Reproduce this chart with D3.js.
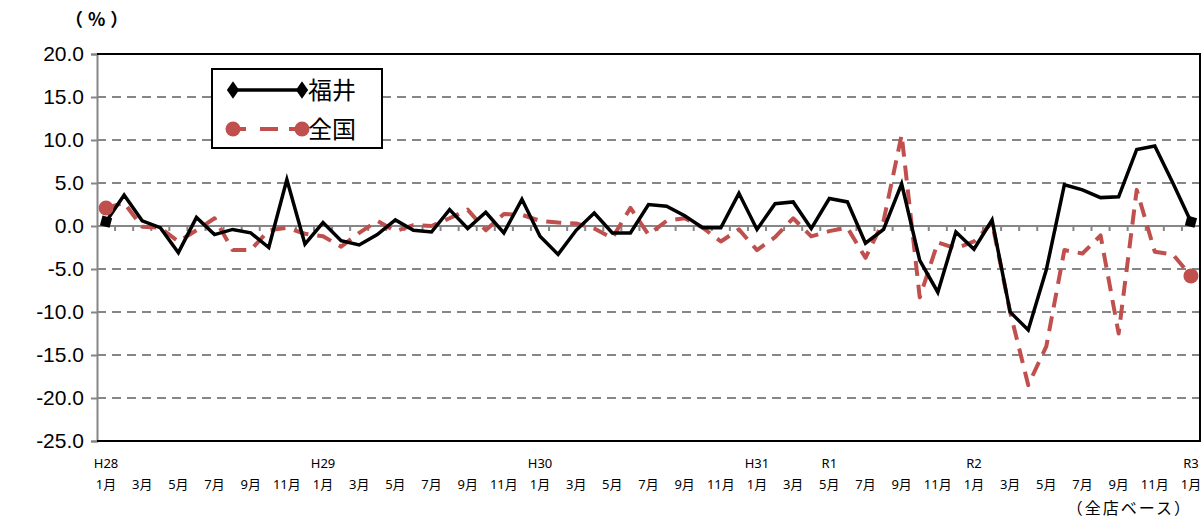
<!DOCTYPE html>
<html>
<head>
<meta charset="utf-8">
<script src="https://cdn.jsdelivr.net/npm/d3@7"></script>
<style>
  body { margin: 0; background: #fff; }
  svg { display: block; font-family: "Noto Sans", "Noto Sans CJK JP", sans-serif; }
</style>
</head>
<body>
<div id="chart"></div>
<script>
// months H28.1 .. R3.1 (61 points)
const monthLabels = [];
for (let i = 0; i < 61; i++) monthLabels.push(((i % 12) + 1) + "月");
const eraLabels = [
  {i: 0, label: "H28"}, {i: 12, label: "H29"}, {i: 24, label: "H30"},
  {i: 36, label: "H31"}, {i: 40, label: "R1"}, {i: 48, label: "R2"}, {i: 60, label: "R3"}
];

const fukui = [
  0.5, 3.6, 0.6, -0.2, -3.1, 1.0, -1.0, -0.4, -0.8, -2.5, 5.4, -2.1,
  0.4, -1.7, -2.2, -1.0, 0.7, -0.5, -0.7, 1.9, -0.3, 1.6, -0.8, 3.1,
  -1.2, -3.3, -0.5, 1.5, -0.8, -0.8, 2.5, 2.3, 1.2, -0.2, -0.2, 3.8,
  -0.4, 2.6, 2.8, -0.3, 3.2, 2.8, -2.0, -0.4, 4.9, -4.0, -7.7, -0.7,
  -2.7, 0.7, -10.0, -12.1, -5.1, 4.8, 4.2, 3.3, 3.4, 8.9, 9.3, 5.0,
  0.5
];
const zenkoku = [
  2.1, 2.7, -0.1, -0.2, -1.8, -0.5, 0.9, -2.8, -2.8, -0.5, -0.2, -0.9,
  -1.2, -2.4, -0.8, 0.6, -0.6, 0.1, 0.0, 0.9, 1.9, -0.5, 1.4, 1.3,
  0.6, 0.4, 0.3, -0.3, -1.4, 2.1, -1.0, 0.6, 0.9, -0.2, -1.8, -0.4,
  -2.8, -1.3, 0.9, -1.2, -0.6, -0.2, -3.7, 0.6, 10.6, -8.3, -1.9, -2.6,
  -1.8, 0.4, -10.0, -18.5, -14.0, -2.8, -3.2, -1.1, -12.5, 4.2, -3.0, -3.3,
  -5.8
];
const yTicks = [20, 15, 10, 5, 0, -5, -10, -15, -20, -25];

const W = 1202, H = 519;
const plot = {left: 97, right: 1200, top: 54, bottom: 441};
const black = "#000", red = "#C0504D", grid = "#868686";

const svg = d3.select("#chart").append("svg").attr("width", W).attr("height", H);

const x = d3.scalePoint().domain(d3.range(61)).range([plot.left, plot.right]).padding(0.5);
const y = d3.scaleLinear().domain([-25, 20]).range([plot.bottom, plot.top]);
const step = x.step();

// gridlines
svg.append("g").selectAll("line").data(yTicks.filter(d => d !== 0 && d !== -25 && d !== 20))
  .join("line")
  .attr("x1", plot.left).attr("x2", plot.right)
  .attr("y1", d => y(d)).attr("y2", d => y(d))
  .attr("stroke", grid).attr("stroke-width", 2).attr("stroke-dasharray", "9,6");

// y axis
const yAxis = svg.append("g").attr("transform", `translate(${plot.left},0)`)
  .call(d3.axisLeft(y).tickValues(yTicks).tickSize(6).tickPadding(7)
    .tickFormat(d => d.toFixed(1)));
yAxis.select(".domain").attr("stroke", grid).attr("stroke-width", 2);
yAxis.selectAll(".tick line").attr("stroke", grid).attr("stroke-width", 2);
yAxis.selectAll(".tick text").attr("font-size", 21).attr("fill", "#000")
  .attr("font-family", "'Liberation Sans', sans-serif");

// zero line with category ticks
svg.append("line").attr("x1", plot.left).attr("x2", plot.right)
  .attr("y1", y(0)).attr("y2", y(0)).attr("stroke", grid).attr("stroke-width", 2);
svg.append("g").selectAll("line").data(d3.range(1, 61)).join("line")
  .attr("x1", d => x(d) - step / 2).attr("x2", d => x(d) - step / 2)
  .attr("y1", y(0)).attr("y2", y(0) + 5)
  .attr("stroke", grid).attr("stroke-width", 2);

// plot frame (top, right, bottom)
svg.append("path")
  .attr("d", `M${plot.left},${plot.top}H${plot.right}V${plot.bottom}H${plot.left}`)
  .attr("fill", "none").attr("stroke", "#000").attr("stroke-width", 2);

// series
const line = d3.line().x((d, i) => x(i)).y(d => y(d));

svg.append("path").datum(zenkoku).attr("d", line)
  .attr("fill", "none").attr("stroke", red).attr("stroke-width", 4)
  .attr("stroke-dasharray", "15,9").attr("stroke-linejoin", "round");

svg.append("path").datum(fukui).attr("d", line)
  .attr("fill", "none").attr("stroke", black).attr("stroke-width", 3.5)
  .attr("stroke-linejoin", "miter");

// end markers
svg.append("g").selectAll("circle").data([0, 60]).join("circle")
  .attr("cx", i => x(i)).attr("cy", i => y(zenkoku[i])).attr("r", 7.5).attr("fill", red);
svg.append("g").selectAll("path").data([0, 60]).join("path")
  .attr("d", d3.symbol(d3.symbolSquare, 100))
  .attr("transform", i => `translate(${x(i)},${y(fukui[i])}) rotate(15)`)
  .attr("fill", black);

// x labels
const xl = svg.append("g").attr("font-size", 13).attr("fill", "#000").attr("text-anchor", "middle");
xl.selectAll("text.m").data(d3.range(0, 61, 2)).join("text").attr("class", "m")
  .attr("x", i => x(i)).attr("y", 489).text(i => monthLabels[i]);
xl.selectAll("text.e").data(eraLabels).join("text").attr("class", "e")
  .attr("x", d => x(d.i)).attr("y", 468).text(d => d.label);

svg.append("text").attr("x", 1192).attr("y", 514).attr("text-anchor", "end")
  .attr("font-size", 16).attr("letter-spacing", 2)
  .attr("font-family", "'Noto Sans CJK JP', sans-serif")
  .text("（全店ベース）");

svg.append("text").attr("x", 65).attr("y", 26).attr("font-size", 18)
  .attr("letter-spacing", 5)
  .attr("font-family", "'Noto Sans CJK JP', sans-serif")
  .attr("font-weight", "bold").text("（%）");

// legend
const lg = svg.append("g");
lg.append("rect").attr("x", 212).attr("y", 69).attr("width", 170).attr("height", 79)
  .attr("fill", "#fff").attr("stroke", "#000").attr("stroke-width", 2);
lg.append("line").attr("x1", 233).attr("x2", 302).attr("y1", 90).attr("y2", 90)
  .attr("stroke", black).attr("stroke-width", 3.5);
lg.selectAll("path.d").data([233, 302]).join("path").attr("class", "d")
  .attr("d", d3.symbol(d3.symbolDiamond, 90))
  .attr("transform", d => `translate(${d},90) scale(1.2,1)`).attr("fill", black);
lg.append("line").attr("x1", 233).attr("x2", 302).attr("y1", 129).attr("y2", 129)
  .attr("stroke", red).attr("stroke-width", 4).attr("stroke-dasharray", "13,14,18,11,100");
lg.selectAll("circle").data([233, 302]).join("circle")
  .attr("cx", d => d).attr("cy", 129).attr("r", 7.5).attr("fill", red);
lg.append("text").attr("x", 308).attr("y", 99).attr("font-size", 24)
  .attr("font-family", "'Noto Sans CJK JP', sans-serif").text("福井");
lg.append("text").attr("x", 308).attr("y", 138).attr("font-size", 24)
  .attr("font-family", "'Noto Sans CJK JP', sans-serif").text("全国");
</script>
</body>
</html>
